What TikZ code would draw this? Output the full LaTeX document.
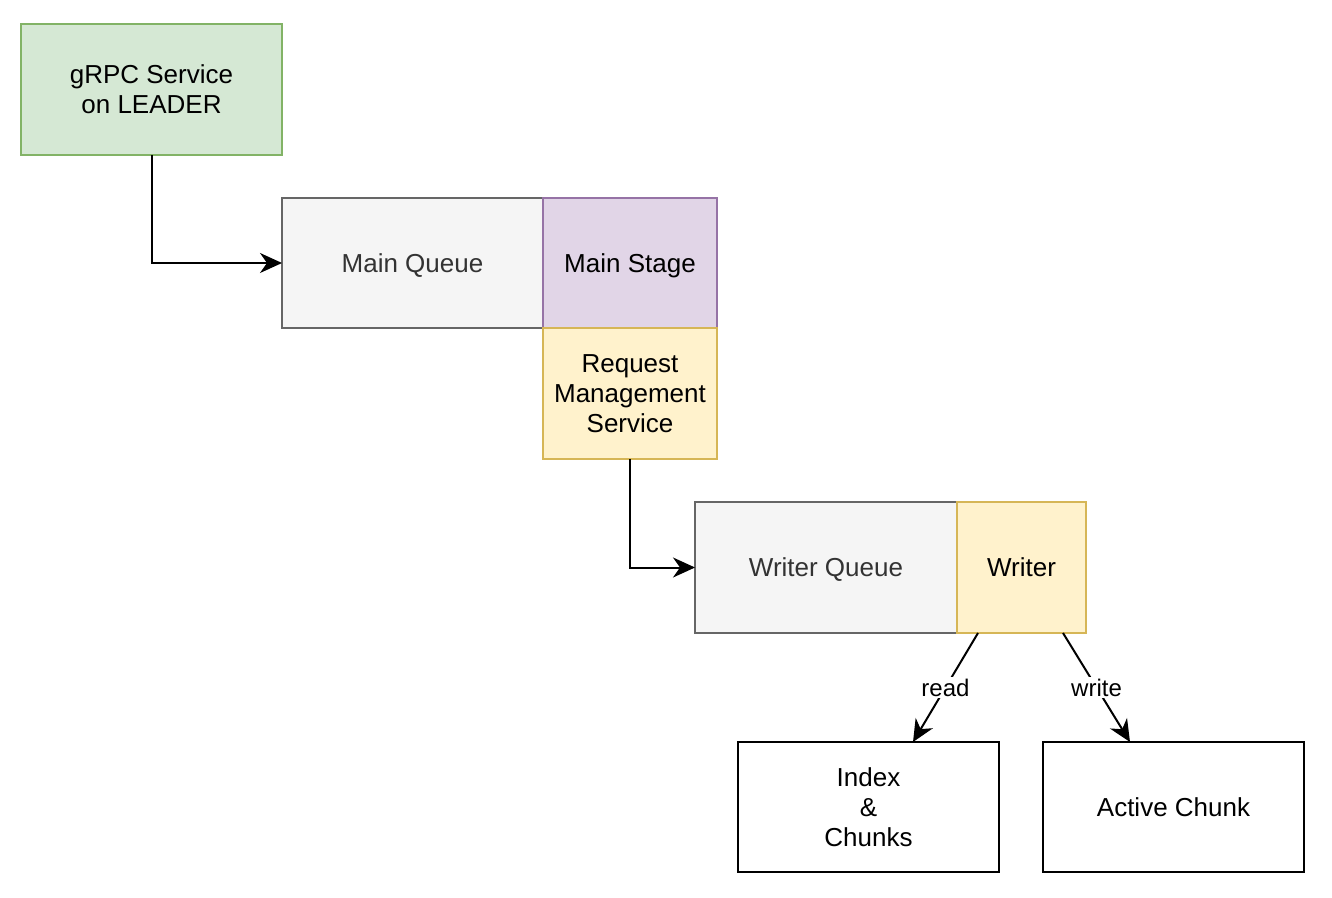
\documentclass[tikz,border=0pt]{standalone}
\usepackage{fontspec}
\setmainfont{Liberation Sans}
\usepackage{tikz}
\usetikzlibrary{arrows.meta, calc, positioning}

\definecolor{greenfill}{HTML}{D5E8D4}
\definecolor{greenline}{HTML}{82B366}
\definecolor{greyfill}{HTML}{F5F5F5}
\definecolor{greyline}{HTML}{666666}
\definecolor{greytext}{HTML}{333333}
\definecolor{purplefill}{HTML}{E1D5E7}
\definecolor{purpleline}{HTML}{9673A6}
\definecolor{yellowfill}{HTML}{FFF2CC}
\definecolor{yellowline}{HTML}{D6B656}

\tikzset{
  block/.style={draw, line width=1pt, align=center, inner sep=0pt, outer sep=0pt,
    font=\fontsize{13}{15}\selectfont},
  oneline/.style={text depth=0pt},
  greenbox/.style={block, fill=greenfill, draw=greenline},
  queuebox/.style={block, oneline, fill=greyfill, draw=greyline, text=greytext},
  stagebox/.style={block, fill=purplefill, draw=purpleline},
  servicebox/.style={block, fill=yellowfill, draw=yellowline},
  storebox/.style={block, fill=white, draw=black},
  flow/.style={line width=1pt, -{Stealth[length=11pt, width=10pt, inset=3.5pt]}},
  edgelabel/.style={fill=white, inner sep=1pt, font=\fontsize{12}{14}\selectfont}
}

\begin{document}
\begin{tikzpicture}[x=0.5pt, y=-0.5pt]
      \useasboundingbox (0,0) rectangle (1332,898);
      %
      \node[greenbox, minimum width=130.5pt, minimum height=65.5pt] (grpc) at (151.5,89.5) {gRPC Service\\on LEADER};
      \node[queuebox, minimum width=130.5pt, minimum height=65pt] (mainqueue) at (412.5,263) {Main Queue};
      \node[stagebox, oneline, minimum width=87pt, minimum height=65pt, right=0pt of mainqueue] (mainstage) {Main Stage};
      \node[servicebox, minimum width=87pt, minimum height=65.5pt, below=0pt of mainstage] (rms) {Request\\Management\\Service};
      %
      \node[queuebox, minimum width=131pt, minimum height=65.5pt] (writerqueue) at (826,567.5) {Writer Queue};
      \node[servicebox, oneline, minimum width=64.5pt, minimum height=65.5pt, right=0pt of writerqueue] (writer) {Writer};
      %
      \node[storebox, minimum width=130.5pt, minimum height=65pt] (index) at (868.5,807) {Index\\\&\\Chunks};
      \node[storebox, oneline, minimum width=130.5pt, minimum height=65pt] (active) at (1173.5,807) {Active Chunk};
      %
      \draw[flow] (grpc.south) |- (mainqueue.west);
      \draw[flow] (rms.south) |- (writerqueue.west);
      \draw[flow] ($(writer.south)+(-43.5,0)$) -- node[edgelabel] {read} ($(index.north)+(44.5,0)$);
      \draw[flow] ($(writer.south)+(41.5,0)$) -- node[edgelabel] {write} ($(active.north)+(-43.5,0)$);
    \end{tikzpicture}
\end{document}
